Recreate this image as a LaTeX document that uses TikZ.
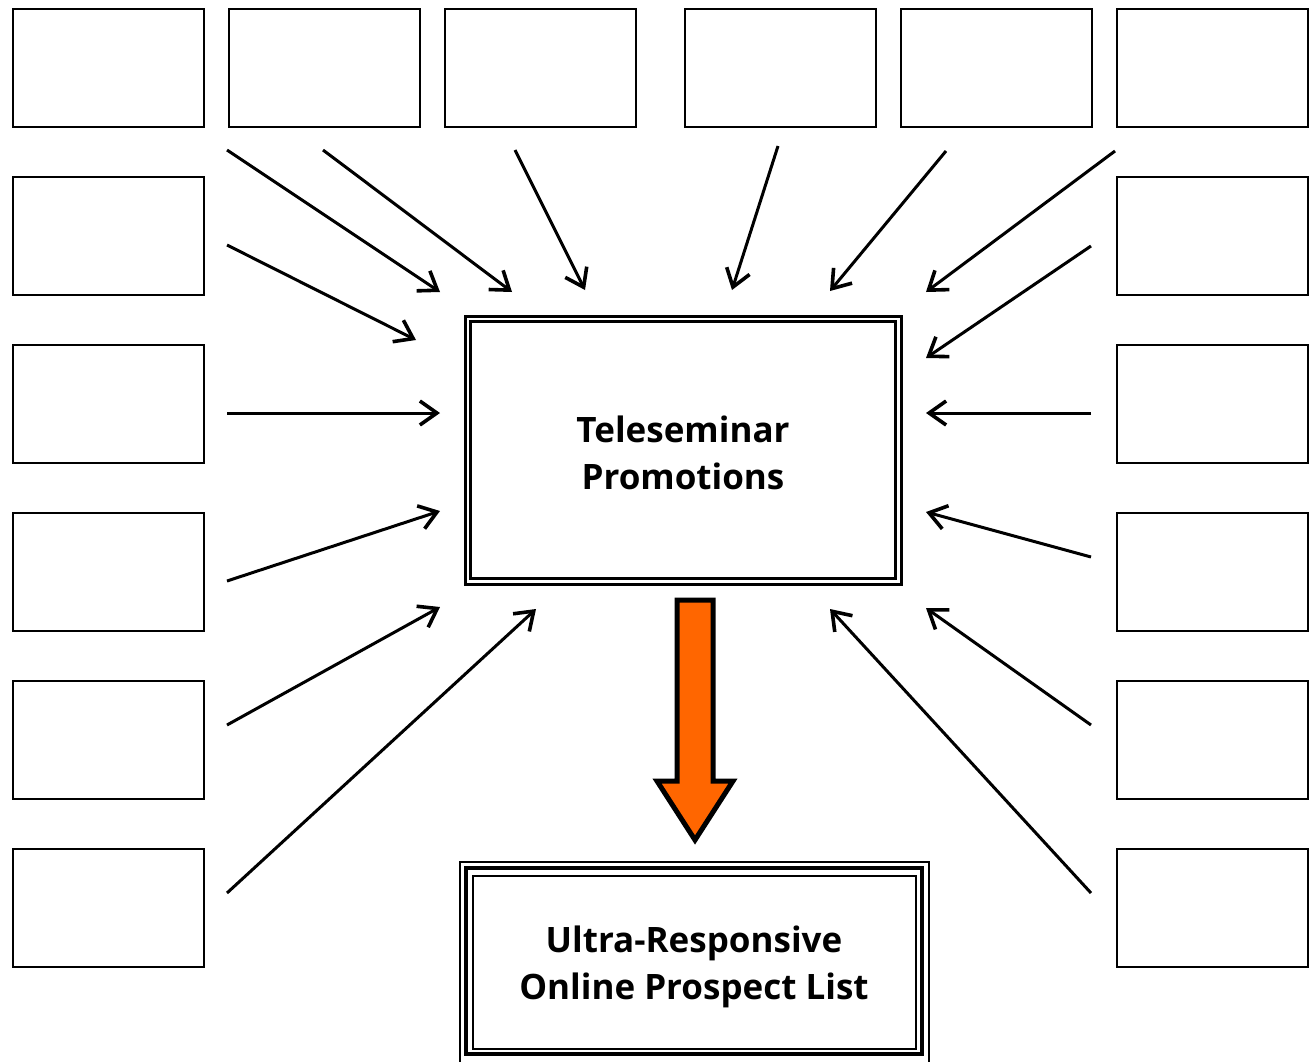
\documentclass[tikz,border=0pt]{standalone}
\usepackage{fontspec}
\setmainfont{Open Sans}
\usetikzlibrary{arrows.meta}
\definecolor{arroworange}{HTML}{FF6600}
\tikzset{
  smallbox/.style={draw=black, line width=2.6pt, minimum width=191pt, minimum height=118pt, inner sep=0pt, anchor=north west},
  feed/.style={line width=3pt, -{Straight Barb[length=17pt, width=24pt, line width=3.6pt]}},
  lbl/.style={font=\fontsize{35}{47}\selectfont\bfseries, align=center, text=black}
}
\begin{document}
\begin{tikzpicture}[x=1pt, y=-1pt]
\useasboundingbox (0,0) rectangle (1312,1061);
% top row
\node[smallbox] (t1) at (11.5,7.5) {};
\node[smallbox] (t2) at (227.5,7.5) {};
\node[smallbox] (t3) at (443.5,7.5) {};
\node[smallbox] (t4) at (683.5,7.5) {};
\node[smallbox] (t5) at (899.5,7.5) {};
\node[smallbox] (t6) at (1115.5,7.5) {};
% left column
\node[smallbox] (l1) at (11.5,175.5) {};
\node[smallbox] (l2) at (11.5,343.5) {};
\node[smallbox] (l3) at (11.5,511.5) {};
\node[smallbox] (l4) at (11.5,679.5) {};
\node[smallbox] (l5) at (11.5,847.5) {};
% right column
\node[smallbox] (r1) at (1115.5,175.5) {};
\node[smallbox] (r2) at (1115.5,343.5) {};
\node[smallbox] (r3) at (1115.5,511.5) {};
\node[smallbox] (r4) at (1115.5,679.5) {};
\node[smallbox] (r5) at (1115.5,847.5) {};
% center box
\node[draw, line width=3pt, minimum width=436pt, minimum height=268pt, inner sep=0pt] (center) at (683,450) {};
\node[draw, line width=3pt, minimum width=425pt, minimum height=257pt, inner sep=0pt] (centerin) at (683,450) {};
\node[lbl] (ctext) at (683,453) {Teleseminar\\Promotions};
% bottom box
\node[draw, line width=2pt, minimum width=469pt, minimum height=204pt, inner sep=0pt] (bout) at (694.5,964) {};
\node[draw, line width=4.5pt, minimum width=456pt, minimum height=186pt, inner sep=0pt] (bmid) at (694,961) {};
\node[draw, line width=2pt, minimum width=443pt, minimum height=173pt, inner sep=0pt] (bin) at (694.5,962.5) {};
\node[lbl] (btext) at (694,967) {Ultra-Responsive\\Online Prospect List};
% orange arrow
\draw[line width=5pt, fill=arroworange, line join=miter]
  (677,600) -- (713,600) -- (713,781) -- (733,781) -- (695,840) -- (657,781) -- (677,781) -- cycle;
% arrow coordinates
\coordinate (s1) at (227,150);  \coordinate (e1) at (440,292);
\coordinate (s2) at (323,150);  \coordinate (e2) at (512,292);
\coordinate (s3) at (515,150);  \coordinate (e3) at (585,290);
\coordinate (s4) at (778,146);  \coordinate (e4) at (732,290);
\coordinate (s5) at (946,151);  \coordinate (e5) at (830,291);
\coordinate (s6) at (1115,151); \coordinate (e6) at (926,292);
\coordinate (s7) at (227,245);  \coordinate (e7) at (416,340);
\coordinate (s8) at (227,413);  \coordinate (e8) at (440,413);
\coordinate (s9) at (227,581);  \coordinate (e9) at (440,511);
\coordinate (s10) at (227,725); \coordinate (e10) at (440,607);
\coordinate (s11) at (227,893); \coordinate (e11) at (536,609);
\coordinate (s12) at (1091,246); \coordinate (e12) at (926,358);
\coordinate (s13) at (1091,413); \coordinate (e13) at (926,413);
\coordinate (s14) at (1091,557); \coordinate (e14) at (926,512);
\coordinate (s15) at (1091,725); \coordinate (e15) at (926,608);
\coordinate (s16) at (1091,893); \coordinate (e16) at (830,609);
\foreach \i in {1,...,16} { \draw[feed] (s\i) -- (e\i); }
\end{tikzpicture}
\end{document}
